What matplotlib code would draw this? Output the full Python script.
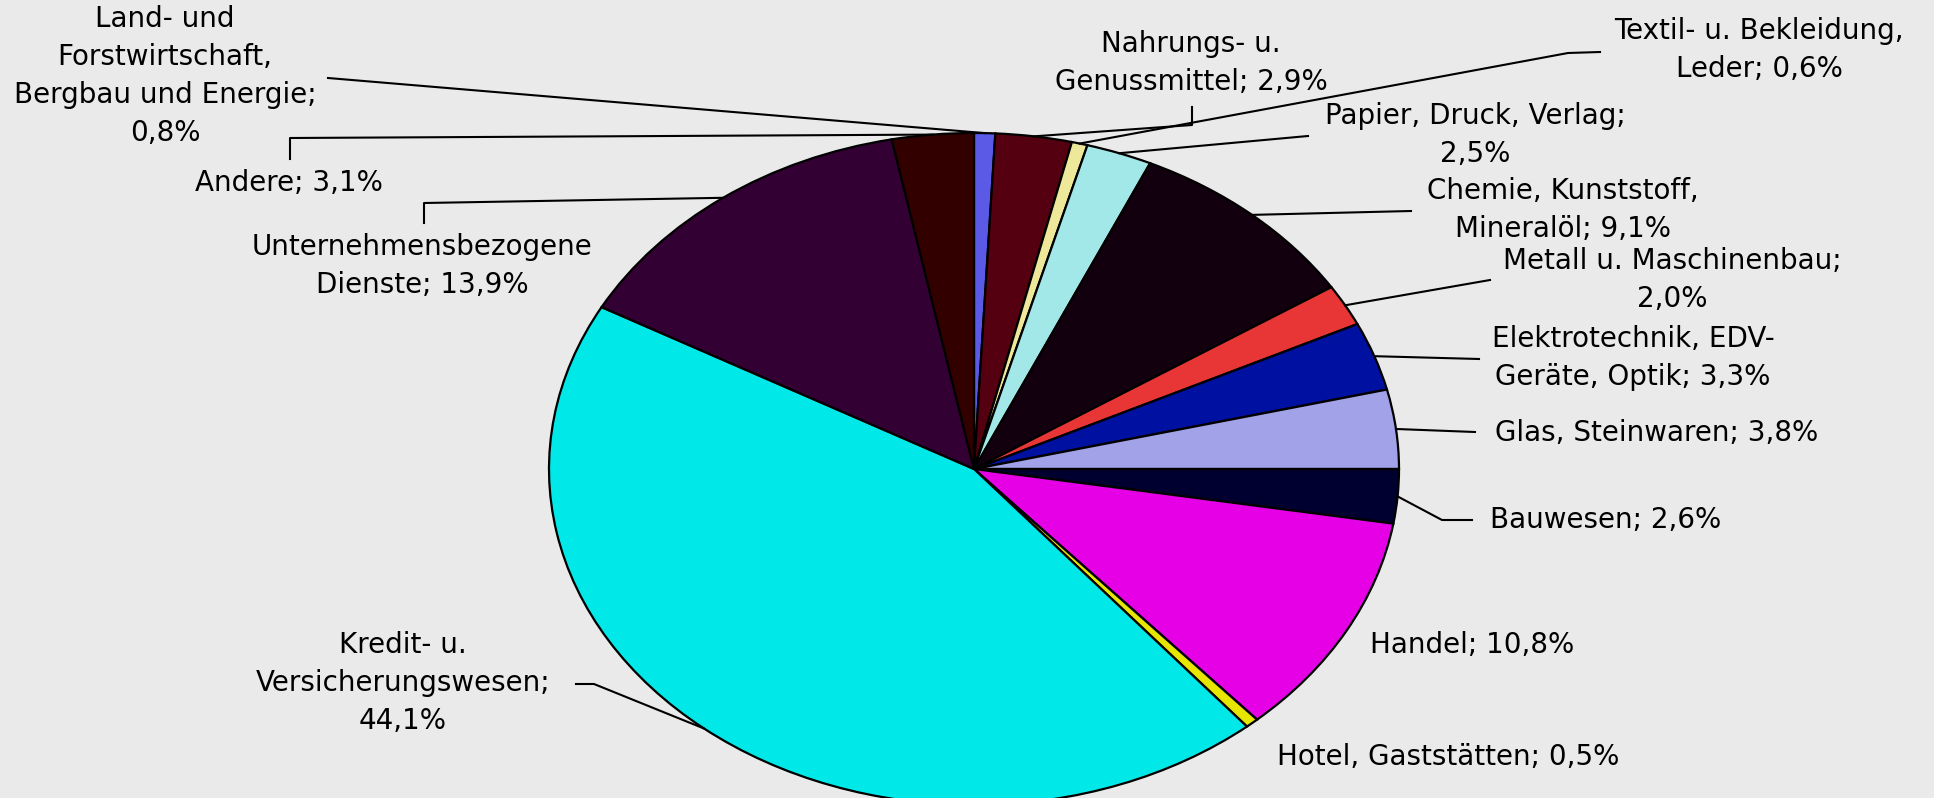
import numpy as np
import matplotlib.pyplot as plt

# sectors, clockwise from 12 o'clock
labels = ["Land- und\nForstwirtschaft,\nBergbau und Energie;\n0,8%",
          "Nahrungs- u.\nGenussmittel; 2,9%",
          "Textil- u. Bekleidung,\nLeder; 0,6%",
          "Papier, Druck, Verlag;\n2,5%",
          "Chemie, Kunststoff,\nMineralöl; 9,1%",
          "Metall u. Maschinenbau;\n2,0%",
          "Elektrotechnik, EDV-\nGeräte, Optik; 3,3%",
          "Glas, Steinwaren; 3,8%",
          "Bauwesen; 2,6%",
          "Handel; 10,8%",
          "Hotel, Gaststätten; 0,5%",
          "Kredit- u.\nVersicherungswesen;\n44,1%",
          "Unternehmensbezogene\nDienste; 13,9%",
          "Andere; 3,1%"]
shares = [0.8, 2.9, 0.6, 2.5, 9.1, 2.0, 3.3, 3.8, 2.6, 10.8, 0.5, 44.1, 13.9, 3.1]
colors = ["#5a5ae6", "#550010", "#eee89a", "#a3e8e8", "#12000f", "#e83535",
          "#0010a0", "#a2a2e8", "#000030", "#e600e6", "#e6e600", "#00e8e8",
          "#330033", "#330000"]

# pixel layout of the picture: pie centre and radii
W, H = 1934, 798
cx, cy, rx, ry = 974, 469, 425, 336

# label centres (pixels) and leader bends (pixels, from label side)
label_pos = [(165, 76), (1191, 63), (1759, 50), (1475, 135), (1563, 210),
             (1672, 280), (1633, 358), (1657, 433), (1606, 520), (1472, 645),
             (1448, 757), (403, 683), (422, 266), (289, 183)]
leaders = [[(328, 78)],
           [(1192, 107), (1192, 125)],
           [(1600, 52), (1568, 53)],
           [(1308, 136)],
           [(1411, 211)],
           [(1490, 280)],
           [(1479, 359)],
           [(1475, 432)],
           [(1472, 520), (1442, 520)],
           [],
           [],
           [(576, 684), (594, 684)],
           [(424, 223), (424, 203)],
           [(290, 159), (290, 138)]]


def to_data(p):
    return (p[0] - cx) / rx, (cy - p[1]) / ry


fig = plt.figure(figsize=(W / 100, H / 100), dpi=100, facecolor="#eaeaea")
ax = fig.add_axes([0, 0, 1, 1])
ax.set_facecolor("#eaeaea")
wedges, _ = ax.pie(shares, colors=colors, startangle=90, counterclock=False,
                   wedgeprops=dict(edgecolor="black", linewidth=1.6))
ax.set_aspect("auto")
ax.set_xlim((0 - cx) / rx, (W - cx) / rx)
ax.set_ylim((cy - H) / ry, cy / ry)
ax.axis("off")

for w, lab, pos, bends in zip(wedges, labels, label_pos, leaders):
    x, y = to_data(pos)
    ax.text(x, y, lab, ha="center", va="center", fontsize=20,
            family="DejaVu Sans", linespacing=1.45, color="black")
    if bends:
        mid = np.deg2rad((w.theta1 + w.theta2) / 2)
        pts = [to_data(b) for b in bends] + [(np.cos(mid), np.sin(mid))]
        xs, ys = zip(*pts)
        ax.plot(xs, ys, color="black", lw=1.5)

fig.savefig("out.png", dpi=100, facecolor=fig.get_facecolor())
